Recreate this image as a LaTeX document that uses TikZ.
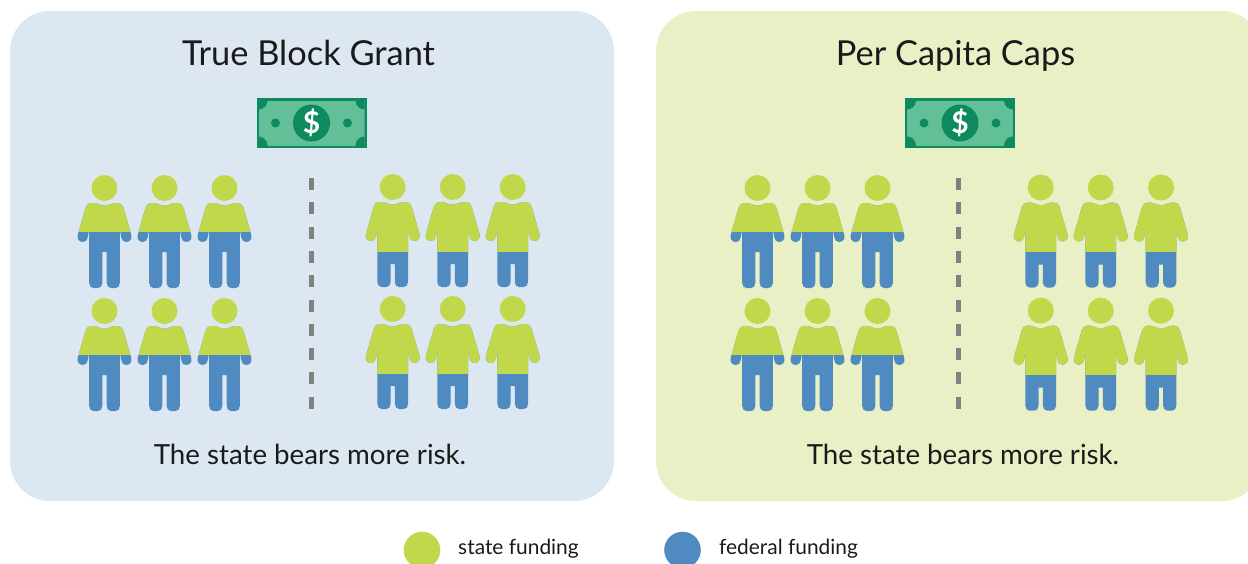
\documentclass[tikz,border=0pt]{standalone}
\usepackage{fontspec}
\setmainfont{Lato}
\definecolor{panelblue}{HTML}{DDE7F2}
\definecolor{panelgreen}{HTML}{E9F0C6}
\definecolor{statecol}{HTML}{C1D84A}
\definecolor{fedcol}{HTML}{4F8BC0}
\definecolor{billdark}{HTML}{0E8A5F}
\definecolor{billlight}{HTML}{63BF98}
\definecolor{dashcol}{HTML}{808282}
\definecolor{inkcol}{HTML}{1A1A1A}
\tikzset{
    panel/.style={rounded corners=40pt},
    title/.style={text=inkcol, font=\fontsize{34.4}{38}\selectfont, anchor=base},
    caption/.style={text=inkcol, font=\fontsize{27.7}{30}\selectfont, anchor=base},
    legend/.style={text=inkcol, font=\fontsize{20.9}{24}\selectfont, anchor=base west, inner sep=0pt},
    divider/.style={draw=dashcol, line width=5.3pt, dash pattern=on 12pt off 12.3pt},
}
% silhouette, origin at the centre of the head; #1 is where the legs part
\newcommand{\figurepath}[1]{
    (0,17.7) .. controls (4,17.7) and (7,15) .. (11,15) -- (13.5,15)
    .. controls (16.5,15) and (18,17) .. (19,20) -- (26.8,47)
    .. controls (28,51) and (25,54) .. (21.5,54)
    .. controls (18.5,54) and (17.3,52) .. (16.7,49) -- (15.3,41) -- (15.3,95)
    .. controls (15.3,98) and (13.5,100) .. (11,100) -- (6.5,100)
    .. controls (4,100) and (2.2,98) .. (2.2,95) -- (2.2,#1) -- (-2.2,#1) -- (-2.2,95)
    .. controls (-2.2,98) and (-4,100) .. (-6.5,100) -- (-11,100)
    .. controls (-13.5,100) and (-15.3,98) .. (-15.3,95) -- (-15.3,41) -- (-16.7,49)
    .. controls (-17.3,52) and (-18.5,54) .. (-21.5,54)
    .. controls (-25,54) and (-28,51) .. (-26.8,47) -- (-19,20)
    .. controls (-18,17) and (-16.5,15) .. (-13.5,15) -- (-11,15)
    .. controls (-7,15) and (-4,17.7) .. (0,17.7) -- cycle
}
% person: x, y of the head, height of the colour change, where the legs part
\newcommand{\person}[4]{
    \begin{scope}[shift={(#1,#2)}]
        \fill[fedcol] \figurepath{#4};
        \begin{scope}
            \clip (-40,-20) rectangle (40,#3);
            \fill[statecol] \figurepath{#4};
        \end{scope}
        \fill[statecol] (0,0) circle (13pt);
    \end{scope}
}
% banknote: centre x, y, name
\newcommand{\banknote}[3]{
    \begin{scope}[shift={(#1,#2)}]
        \fill[billdark] (-55,-25) rectangle (55,25);
        \begin{scope}
            \clip (-53,-22.5) rectangle (53,22.5);
            \fill[billlight] (-53,-22.5) rectangle (53,22.5);
            \foreach \cx in {-53,53}
                \foreach \cy in {-22.5,22.5}
                    \fill[billdark] (\cx,\cy) circle (9pt);
        \end{scope}
        \fill[billdark] (-36,0) circle (4.5pt);
        \fill[billdark] (36,0) circle (4.5pt);
        \node[circle, fill=billdark, minimum size=37pt, inner sep=0pt, text=white,
              font=\fontsize{30}{30}\selectfont\bfseries] (#3) at (0,0) {\$};
    \end{scope}
}
\begin{document}
\begin{tikzpicture}[x=1pt, y=-1pt]
    \useasboundingbox (0,0) rectangle (1248,563);
    \clip (0,0) rectangle (1248,563);

    % Panels
    \fill[panelblue, panel] (10,11) rectangle (614,501);
    \fill[panelgreen, panel] (656,11) rectangle (1262,501);
    \node[title] (titleblock) at (308.5,65) {True Block Grant};
    \node[title] (titlecaps) at (955.5,65) {Per Capita Caps};

    % Banknotes
    \banknote{311.5}{123}{billblock}
    \banknote{960}{123}{billcaps}

    % Dashed dividers
    \coordinate (blocktop) at (311.3,178);
    \coordinate (blockend) at (311.3,410);
    \coordinate (capstop) at (958.5,178);
    \coordinate (capsend) at (958.5,410);
    \draw[divider] (blocktop) -- (blockend);
    \draw[divider] (capstop) -- (capsend);

    % People, left half and right half of each panel
    \foreach \px in {104.5,164.5,224.5,757.5,817.5,877.5} {
        \person{\px}{188}{43}{64}
        \person{\px}{311}{43}{64}
    }
    \foreach \px in {392.7,452.7,512.7} {
        \person{\px}{187}{64}{77}
        \person{\px}{309}{64}{77}
    }
    \foreach \px in {1040.7,1100.7,1161} {
        \person{\px}{187.5}{64}{77}
        \person{\px}{310.7}{64}{77}
    }

    % Captions
    \node[caption] (riskblock) at (310,464) {The state bears more risk.};
    \node[caption] (riskcaps) at (963,464) {The state bears more risk.};

    % Legend
    \fill[statecol] (422,550) circle (18.3pt);
    \node[legend] (legstate) at (458,554) {state funding};
    \fill[fedcol] (682.5,550) circle (18.3pt);
    \node[legend] (legfed) at (719,554) {federal funding};
\end{tikzpicture}
\end{document}
